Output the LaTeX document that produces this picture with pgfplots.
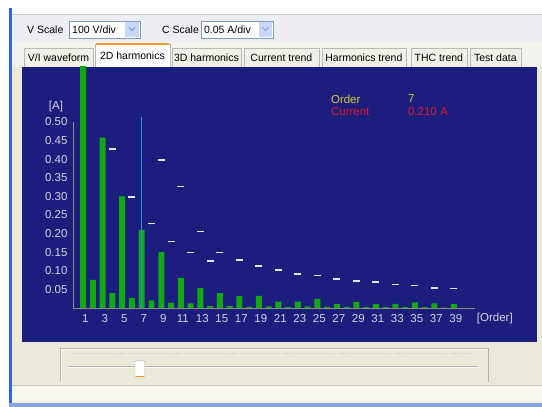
\documentclass[border=0pt]{standalone}
\usepackage{pgfplots}
\pgfplotsset{compat=1.18}
\usepackage{fontspec}
\setmainfont{Liberation Sans}

\definecolor{panel}{RGB}{28,30,126}
\definecolor{bargreen}{RGB}{18,168,18}
\definecolor{limitw}{RGB}{228,228,238}
\definecolor{cursorblue}{RGB}{30,150,225}
\definecolor{ticktext}{RGB}{210,210,226}
\definecolor{axisgray}{RGB}{140,140,120}
\definecolor{ordery}{RGB}{215,200,60}
\definecolor{curred}{RGB}{225,20,45}
\definecolor{winbg}{RGB}{236,233,216}
\definecolor{toolbar}{RGB}{236,238,244}
\definecolor{tabbg}{RGB}{243,242,236}
\definecolor{tabfill}{RGB}{240,240,232}
\definecolor{xpblue}{RGB}{50,100,225}
\definecolor{combo}{RGB}{127,157,185}
\definecolor{combobtn}{RGB}{200,215,245}

\begin{document}
\begin{tikzpicture}[x=1pt,y=1pt,font=\fontsize{10.5}{12}\selectfont]
% window chrome
\fill[white] (0,0) rectangle (542,407);
\fill[winbg] (12,4) rectangle (542,393);
\fill[xpblue] (9,0) rectangle (12,399);
\fill[xpblue!60] (9,0) rectangle (542,4);
\fill[toolbar] (12,365) rectangle (542,392);
\draw[gray!40] (12,392.5) -- (542,392.5);
\draw[gray!50] (12,365) -- (542,365);
\fill[tabbg] (12,340) rectangle (542,365);
\node[anchor=west,inner sep=0] at (27,377.5) {V Scale};
\draw[combo,fill=white] (69,369) rectangle (140,386);
\fill[combobtn] (125,370) rectangle (139,385);
\draw[xpblue!70,line width=0.8pt] (129,379.5) -- (132,376.5) -- (135,379.5);
\node[anchor=west,inner sep=0] at (72,377.5) {100 V/div};
\node[anchor=west,inner sep=0] at (162,377.5) {C Scale};
\draw[combo,fill=white] (201,369) rectangle (273,386);
\fill[combobtn] (259,370) rectangle (272,385);
\draw[xpblue!70,line width=0.8pt] (262.5,379.5) -- (265.5,376.5) -- (268.5,379.5);
\node[anchor=west,inner sep=0] at (204,377.5) {0.05 A/div};
% tabs
\foreach \a/\b/\t in {24/93/{V/I waveform},172/241/{3D harmonics},244/319/{Current trend},322/406/{Harmonics trend},411/467/{THC trend},470/521/{Test data}}{
  \draw[gray!55,fill=tabfill] (\a,340) rectangle (\b,359);
  \node at ({(\a+\b)/2},349.5) {\t};
}
\draw[gray!55,fill=white] (95,340) rectangle (170,363);
\draw[orange!80,line width=1.2pt] (96,363) -- (169,363);
\node at (132.5,351) {2D harmonics};
% slider area
\draw[gray!60] (60,25) -- (60,59) -- (488,59) -- (488,25);
\draw[white] (61,25) -- (61,58) -- (487,58);
\draw[gray!45,dotted,line width=0.8pt] (72,53) -- (470,53);
\draw[gray!60] (68,40.5) -- (478,40.5);
\draw[white] (68,39.5) -- (478,39.5);
\draw[gray!60,fill=white,rounded corners=1pt] (135,30) rectangle (145,46);
\draw[orange!85,line width=1.5pt] (136,30.5) -- (144,30.5);
\draw[gray!45] (12,22) -- (542,22);
\fill[white!60!winbg] (12,5) rectangle (542,21);

\begin{axis}[
  at={(22pt,65pt)}, anchor=south west,
  scale only axis, width=515pt, height=275pt,
  xmin=-5.28, xmax=47.51, ymin=-0.0914, ymax=0.6478,
  axis background/.style={fill=panel},
  axis line style={draw=none}, tick style={draw=none},
  xtick={1,3,5,7,9,11,13,15,17,19,21,23,25,27,29,31,33,35,37,39},
  xticklabels={1,3,5,7,9,11,13,15,17,19,21,23,25,27,29,31,33,35,37,39},
  ytick={0.05,0.10,0.15,0.20,0.25,0.30,0.35,0.40,0.45,0.50},
  yticklabels={0.05,0.10,0.15,0.20,0.25,0.30,0.35,0.40,0.45,0.50},
  ticklabel style={font=\fontsize{11.5}{12}\selectfont, text=ticktext},
  xticklabel style={anchor=center, yshift=23pt, xshift=2pt},
  yticklabel style={anchor=east, xshift=49pt},
]
\draw[axisgray] (axis cs:-0.06,0) -- (axis cs:41.15,0);
\draw[axisgray] (axis cs:-0.06,0) -- (axis cs:-0.06,0.5);
% harmonic currents
\addplot[ybar, bar width=6pt, bar shift=0pt, fill=bargreen, draw=none] coordinates {
  (1,0.70) (2,0.075) (3,0.458) (4,0.040) (5,0.300) (6,0.027) (7,0.210) (8,0.020)
  (9,0.150) (10,0.014) (11,0.081) (12,0.012) (13,0.054) (14,0.005) (15,0.040)
  (16,0.005) (17,0.032) (18,0.003) (19,0.032) (20,0.004) (21,0.017) (22,0.003)
  (23,0.017) (24,0.004) (25,0.024) (26,0.003) (27,0.011) (28,0.003) (29,0.016)
  (30,0.002) (31,0.011) (32,0.002) (33,0.011) (34,0.002) (35,0.015) (36,0.002)
  (37,0.012) (38,0.001) (39,0.010)
};
% limits
\addplot[only marks, mark=-, mark size=3.5pt, mark options={draw=limitw, line width=1.6pt}] coordinates {
  (4,0.427) (6,0.298) (8,0.227) (9,0.398) (10,0.178) (11,0.326) (12,0.149)
  (13,0.205) (14,0.126) (15,0.149) (17,0.129) (19,0.113) (21,0.102) (23,0.091)
  (25,0.087) (27,0.078) (29,0.072) (31,0.069) (33,0.063) (35,0.060) (37,0.054)
  (39,0.052)
};
% cursor
\addplot[draw=cursorblue, line width=1.5pt, mark=none] coordinates {(7,0) (7,0.513)};
\end{axis}

\begin{scope}[font=\fontsize{11.5}{12}\selectfont]
\node[text=ticktext] at (56,300) {[A]};
\node[text=ticktext] at (495,88) {[Order]};
\node[anchor=west,inner sep=0,text=ordery] at (331,308) {Order};
\node[anchor=west,inner sep=0,text=ordery] at (408,308) {7};
\node[anchor=west,inner sep=0,text=curred] at (331,295) {Current};
\node[anchor=west,inner sep=0,text=curred] at (408,295) {0.210 A};
\end{scope}
\end{tikzpicture}
\end{document}
